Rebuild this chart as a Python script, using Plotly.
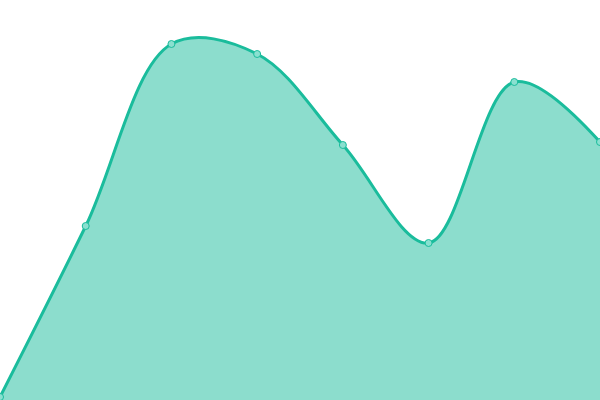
import plotly.graph_objects as go

# categories and values
x_vals = [0, 1, 2, 3, 4, 5, 6, 7]
y_vals = [3, 174, 356, 346, 255, 157, 318, 258]

line_color = '#1abc9c'
fill_color = 'rgba(26, 188, 156, 0.5)'

trace = go.Scatter(
    x=x_vals,
    y=y_vals,
    mode='lines+markers',
    line={'color': line_color, 'width': 3, 'shape': 'spline', 'smoothing': 1},
    marker={'size': 7, 'color': '#8ae0d0',
            'line': {'color': line_color, 'width': 1}},
    fill='tozeroy',
    fillcolor=fill_color,
    hoverinfo='x+y',
)

layout = go.Layout(
    width=600,
    height=400,
    margin={'l': 0, 'r': 0, 't': 0, 'b': 0},
    paper_bgcolor='white',
    plot_bgcolor='white',
    showlegend=False,
    xaxis={'range': [0, 7], 'visible': False},
    yaxis={'range': [0, 400], 'visible': False},
)

fig = go.Figure(data=[trace], layout=layout)
# drop the default body margin so the chart sits flush in the window
fig.write_html("out.html", config={'displayModeBar': False},
               post_script="document.body.style.margin='0';")
